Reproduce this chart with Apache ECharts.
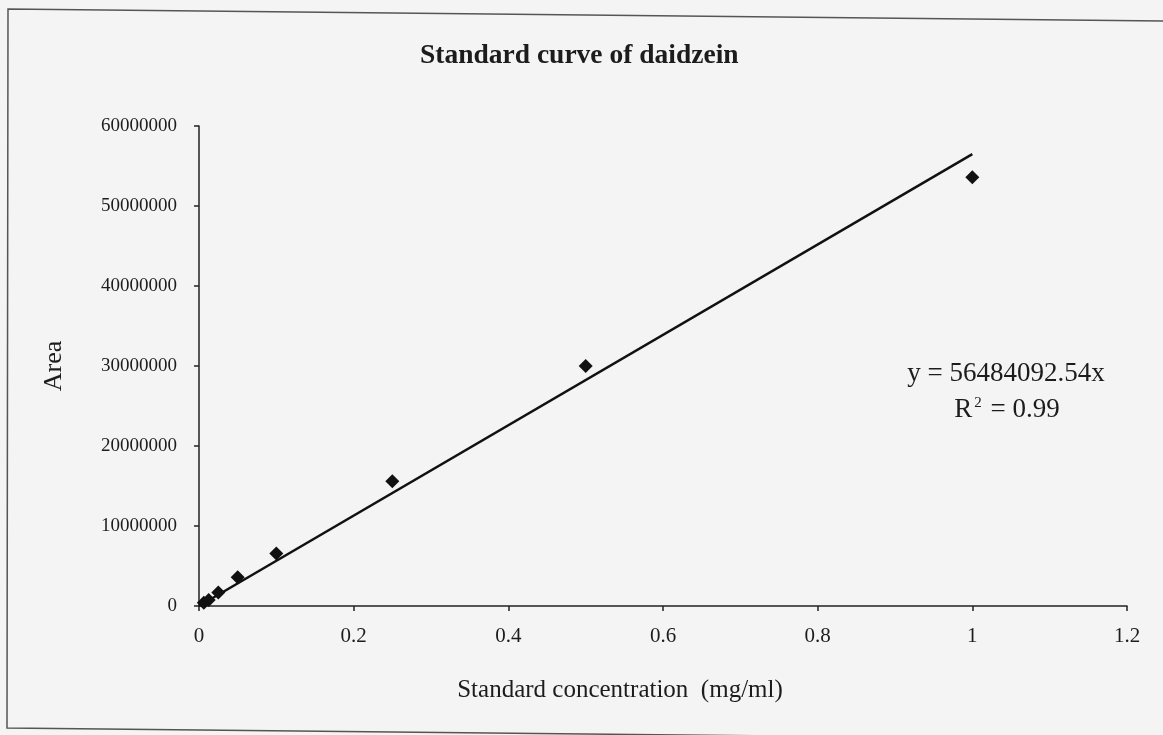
<!DOCTYPE html>
<html>
<head>
<meta charset="utf-8">
<script src="https://cdn.jsdelivr.net/npm/echarts@6/dist/echarts.min.js"></script>
<style>
html,body{margin:0;padding:0;background:#f4f4f4;}
#c{width:1163px;height:735px;}
</style>
</head>
<body>
<div id="c"></div>
<script>
// Data
var concentration = [0.00625, 0.0125, 0.025, 0.05, 0.1, 0.25, 0.5, 1];
var area = [400000, 750000, 1700000, 3600000, 6550000, 15600000, 30000000, 53600000];
var trendX = [0, 1];
var trendY = [0, 56484092.54];
var xTicks = [0, 0.2, 0.4, 0.6, 0.8, 1, 1.2];
var yTicks = [0, 10000000, 20000000, 30000000, 40000000, 50000000, 60000000];
var titleText = 'Standard curve of daidzein';
var xName = 'Standard concentration  (mg/ml)';
var yName = 'Area';
var eqLine1 = 'y = 56484092.54x';
var eqR2 = '0.99';

var FONT = '"Liberation Serif","Times New Roman",serif';
var INK = '#1c1c1c';

var chart = echarts.init(document.getElementById('c'));
var pts = concentration.map(function (x, i) { return [x, area[i]]; });
var trend = trendX.map(function (x, i) { return [x, trendY[i]]; });

chart.setOption({
  backgroundColor: '#f4f4f4',
  animation: false,
  title: {
    text: titleText,
    left: 415, top: 37,
    textStyle: { fontFamily: FONT, fontWeight: 'bold', fontSize: 27.5, color: INK }
  },
  grid: { left: 199, right: 36, top: 126, bottom: 129 },
  xAxis: {
    type: 'value', min: 0, max: 1.2, interval: 0.2,
    name: xName, nameLocation: 'middle', nameGap: 72,
    nameTextStyle: { fontFamily: FONT, fontSize: 25, color: INK, padding: [0, 86, 0, 0] },
    axisLine: { show: true, lineStyle: { color: '#222', width: 1.5 } },
    axisTick: { show: true, length: 5, inside: false, lineStyle: { color: '#222', width: 1.5 } },
    axisLabel: { fontFamily: FONT, fontSize: 21, color: INK, margin: 20,
      formatter: function (v) { return String(Math.round(v * 10) / 10); } },
    splitLine: { show: false }
  },
  yAxis: {
    type: 'value', min: 0, max: 60000000, interval: 10000000,
    name: yName, nameLocation: 'middle', nameGap: 132,
    nameTextStyle: { fontFamily: FONT, fontSize: 26, color: INK },
    axisLine: { show: true, lineStyle: { color: '#222', width: 1.5 } },
    axisTick: { show: true, length: 5, lineStyle: { color: '#222', width: 1.5 } },
    axisLabel: { fontFamily: FONT, fontSize: 19, color: INK, margin: 22,
      formatter: function (v) { return String(v); } },
    splitLine: { show: false }
  },
  graphic: [
    { type: 'polyline', silent: true,
      shape: { points: [[1163, 21], [8, 9], [7, 728], [1163, 740]] },
      style: { stroke: '#555', lineWidth: 1.5, fill: null } },
    { type: 'text', x: 1006, y: 360,
      style: { text: eqLine1, fontFamily: FONT, fontSize: 27, fill: INK, textAlign: 'center' } },
    { type: 'text', x: 1007, y: 396,
      style: {
        text: '{a|R}{s|2}{a| = ' + eqR2 + '}',
        textAlign: 'center',
        rich: {
          a: { fontFamily: FONT, fontSize: 27, fill: INK, color: INK },
          s: { fontFamily: FONT, fontSize: 15, fill: INK, color: INK, verticalAlign: 'top', padding: [0, 2, 12, 2] }
        }
      } }
  ],
  series: [
    { type: 'line', data: trend, showSymbol: false, symbol: 'none',
      lineStyle: { color: '#111', width: 2.5 }, z: 2, silent: true },
    { type: 'scatter', data: pts, symbol: 'diamond', symbolSize: 14,
      itemStyle: { color: '#111', opacity: 1 }, z: 3 }
  ]
});
</script>
</body>
</html>
